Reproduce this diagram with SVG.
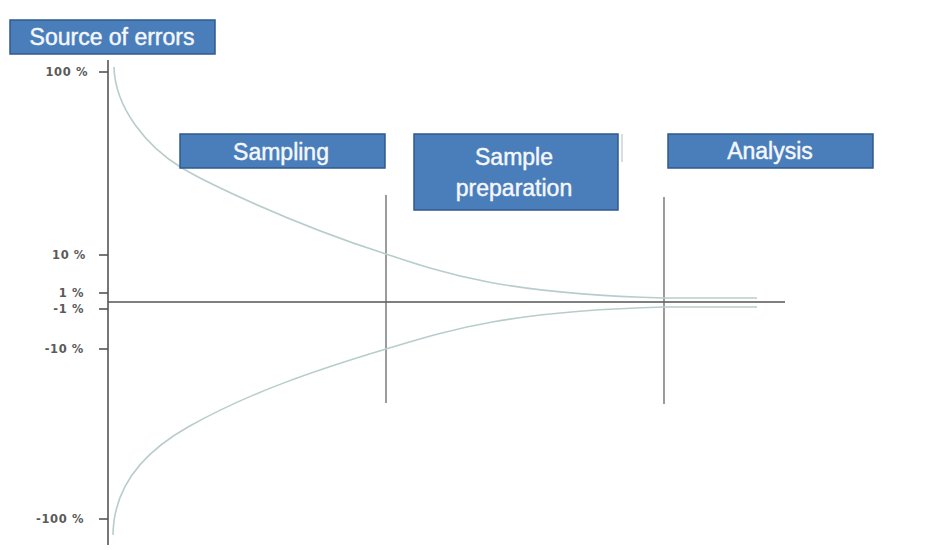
<svg xmlns="http://www.w3.org/2000/svg" width="929" height="550" viewBox="0 0 929 550">
<style>
.box{fill:#4a7ebb;stroke:#2f5a8c;stroke-width:1.5}
.bt{fill:#f4f7fb;stroke:#f4f7fb;stroke-width:0.45;font-family:"Liberation Sans",Arial,sans-serif;font-size:23px;text-anchor:middle}
.lbl{fill:#5a5a5a;font-family:"DejaVu Sans",sans-serif;font-size:11.5px;font-weight:bold;letter-spacing:0.6px;text-anchor:end}
.ax{stroke:#555;stroke-width:1.6;fill:none}
.sep{stroke:#666;stroke-width:1.3;fill:none}
.crv{stroke:#b9cccc;stroke-width:1.6;fill:none}
</style>
<rect width="929" height="550" fill="#fff"/>
<g id="title">
<rect class="box" x="10" y="20" width="205" height="34"/>
<text class="bt" x="112" y="45">Source of errors</text>
</g>
<g id="axis-labels">
<text class="lbl" x="88" y="76">100 %</text>
<text class="lbl" x="86" y="259">10 %</text>
<text class="lbl" x="84" y="297">1 %</text>
<text class="lbl" x="84" y="313">-1 %</text>
<text class="lbl" x="84" y="353">-10 %</text>
<text class="lbl" x="84" y="523">-100 %</text>
</g>
<g id="connectors">
<line class="ax" x1="108" y1="60" x2="108" y2="545"/>
<line class="ax" x1="108" y1="302" x2="785" y2="302"/>
<line class="ax" x1="99" y1="72" x2="108" y2="72"/>
<line class="ax" x1="99" y1="255" x2="108" y2="255"/>
<line class="ax" x1="99" y1="293" x2="108" y2="293"/>
<line class="ax" x1="99" y1="309" x2="108" y2="309"/>
<line class="ax" x1="99" y1="349" x2="108" y2="349"/>
<line class="ax" x1="99" y1="519" x2="108" y2="519"/>
<line class="sep" x1="386" y1="195" x2="386" y2="403"/>
<line class="sep" x1="664" y1="197" x2="664" y2="404"/>
<path class="crv" d="M114,67 C115,108 147,147 182,168 C202,180 286,222 386,254 C446,274 506,294 664,298 L757,298"/>
<path class="crv" d="M113,535 C113.5,490 140,454 188,427 C248,393 316,370 386,349 C446,331 506,311 664,307 L757,307"/>
</g>
<g id="sampling">
<rect class="box" x="180" y="134" width="205" height="34"/>
<text class="bt" x="281" y="160">Sampling</text>
</g>
<g id="sample-preparation">
<line x1="622" y1="134" x2="622" y2="162" stroke="#d8dde3" stroke-width="2"/>
<rect class="box" x="414" y="134" width="204" height="76"/>
<text class="bt" x="514" y="165">Sample</text>
<text class="bt" x="514" y="196">preparation</text>
</g>
<g id="analysis">
<rect class="box" x="668" y="134" width="205" height="34"/>
<text class="bt" x="770" y="159">Analysis</text>
</g>
</svg>
